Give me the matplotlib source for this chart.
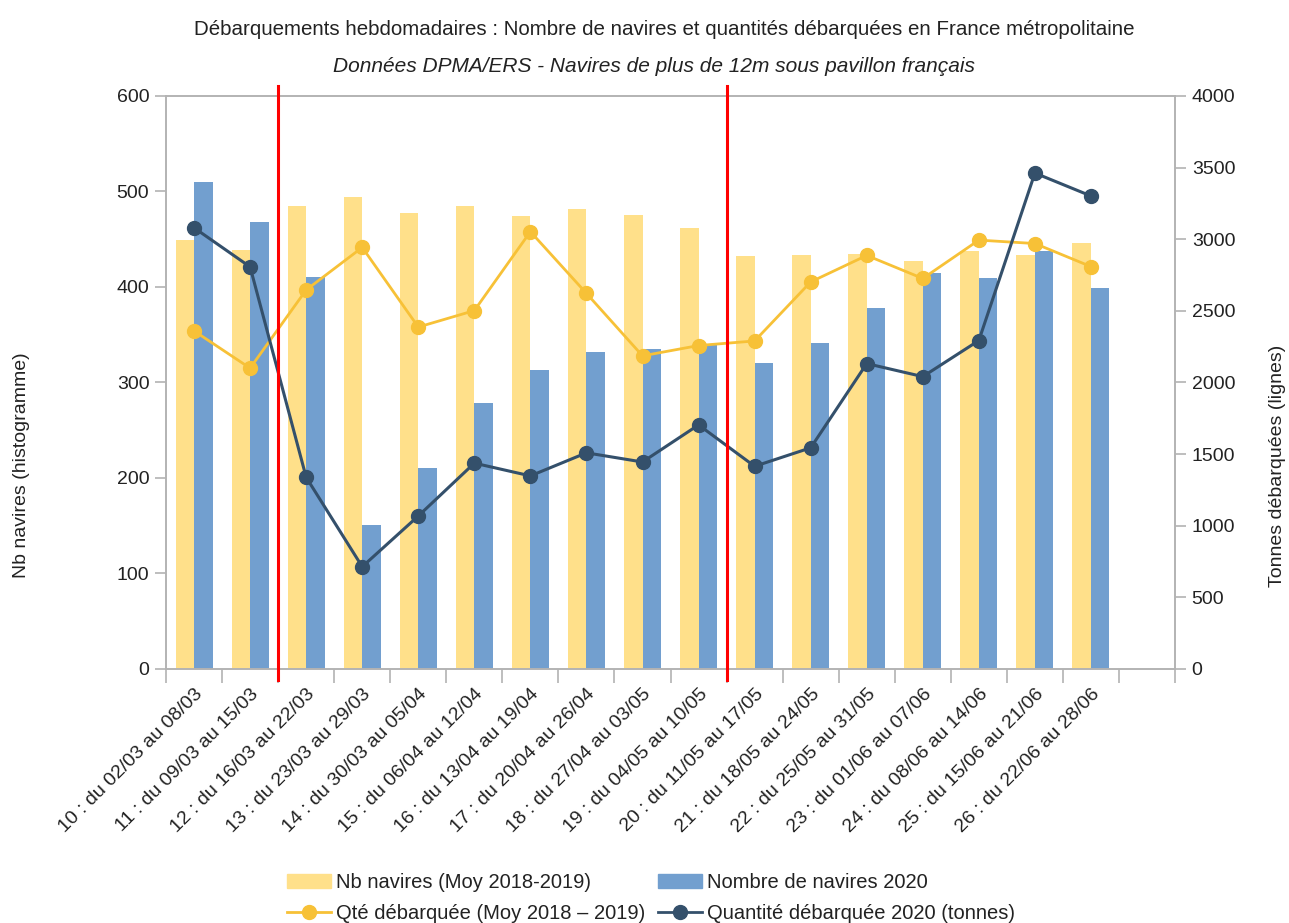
import numpy as np
import matplotlib.pyplot as plt
from matplotlib.lines import Line2D
from matplotlib.patches import Patch

plt.rcParams['font.family'] = ['Liberation Sans', 'DejaVu Sans']

# Weekly labels (week number : date range)
weeks = [
    "10 : du 02/03 au 08/03", "11 : du 09/03 au 15/03", "12 : du 16/03 au 22/03",
    "13 : du 23/03 au 29/03", "14 : du 30/03 au 05/04", "15 : du 06/04 au 12/04",
    "16 : du 13/04 au 19/04", "17 : du 20/04 au 26/04", "18 : du 27/04 au 03/05",
    "19 : du 04/05 au 10/05", "20 : du 11/05 au 17/05", "21 : du 18/05 au 24/05",
    "22 : du 25/05 au 31/05", "23 : du 01/06 au 07/06", "24 : du 08/06 au 14/06",
    "25 : du 15/06 au 21/06", "26 : du 22/06 au 28/06",
]
# Number of vessels (left axis, bars)
nb_moy = [449, 439, 485, 494, 477, 485, 474, 482, 475, 462,
          432, 434, 435, 427, 438, 433, 446]
nb_2020 = [510, 468, 410, 151, 210, 279, 313, 332, 335, 339,
           320, 341, 378, 415, 409, 438, 399]
# Landed quantities in tonnes (right axis, lines)
qte_moy = [2360, 2100, 2646, 2943, 2387, 2502, 3053, 2622, 2186, 2258,
           2290, 2702, 2887, 2726, 2994, 2970, 2809]
qte_2020 = [3080, 2807, 1338, 714, 1068, 1437, 1348, 1509, 1445, 1704,
            1415, 1544, 2132, 2041, 2293, 3462, 3302]
# weeks after which a red separator is drawn (confinement start / end)
separators = [1.5, 9.5]

C_YEL_BAR = "#FFE08A"
C_BLUE_BAR = "#729FCF"
C_YEL_LINE = "#F7C137"
C_DARK_LINE = "#34506B"
C_GRID = "#B3B3B3"
C_TEXT = "#222222"

x = np.arange(len(weeks))
w = 0.33

fig = plt.figure(figsize=(12.89, 9.23), dpi=100)
ax = fig.add_axes([0.1288, 0.2752, 0.7828, 0.6208])
ax2 = ax.twinx()

ax.bar(x - w / 2, nb_moy, width=w, color=C_YEL_BAR, label="Nb navires (Moy 2018-2019)")
ax.bar(x + w / 2, nb_2020, width=w, color=C_BLUE_BAR, label="Nombre de navires 2020")

ax2.plot(x, qte_moy, color=C_YEL_LINE, lw=2, marker="o", ms=10, label="Qté débarquée (Moy 2018 – 2019)")
ax2.plot(x, qte_2020, color=C_DARK_LINE, lw=2.2, marker="o", ms=10, label="Quantité débarquée 2020 (tonnes)")

for s in separators:
    ax2.plot([s, s], [-0.02, 1.018], transform=ax2.get_xaxis_transform(),
             color="red", lw=2.2, clip_on=False, zorder=5)

ax.set_xlim(-0.5, 17.5)
ax.set_ylim(0, 600)
ax2.set_ylim(0, 4000)
ax.set_yticks(np.arange(0, 601, 100))
ax2.set_yticks(np.arange(0, 4001, 500))

# category labels at centres, tick marks at boundaries
ax.set_xticks(x)
ax.set_xticklabels(weeks, rotation=45, ha="right", rotation_mode="anchor",
                   fontsize=14, color=C_TEXT)
ax.set_xticks(np.arange(-0.5, 17.6, 1), minor=True)
ax.tick_params(axis="x", which="major", length=0, pad=12)
ax.tick_params(axis="x", which="minor", length=10, color=C_GRID, width=1.2)
ax.tick_params(axis="y", length=8, color=C_GRID, width=1.2, labelsize=14, labelcolor=C_TEXT, pad=4)
ax2.tick_params(axis="y", length=8, color=C_GRID, width=1.2, labelsize=14, labelcolor=C_TEXT, pad=4)

for a in (ax, ax2):
    for sp in a.spines.values():
        sp.set_color(C_GRID)
        sp.set_linewidth(1.2)

ax.set_ylabel("Nb navires (histogramme)", fontsize=14, color=C_TEXT)
ax2.set_ylabel("Tonnes débarquées (lignes)", fontsize=14, color=C_TEXT)
ax.yaxis.set_label_coords(-0.135, 0.355)
ax2.yaxis.set_label_coords(1.093, 0.355)

fig.text(0.515, 0.968, "Débarquements hebdomadaires : Nombre de navires et quantités débarquées en France métropolitaine",
         ha="center", va="center", fontsize=14.75, color=C_TEXT)
fig.text(0.507, 0.928, "Données DPMA/ERS - Navires de plus de 12m sous pavillon français",
         ha="center", va="center", fontsize=15, style="italic", color=C_TEXT)

handles = [
    Patch(color=C_YEL_BAR), Line2D([], [], color=C_YEL_LINE, lw=2, marker="o", ms=10),
    Patch(color=C_BLUE_BAR), Line2D([], [], color=C_DARK_LINE, lw=2, marker="o", ms=10),
]
labels = ["Nb navires (Moy 2018-2019)", "Qté débarquée (Moy 2018 – 2019)",
          "Nombre de navires 2020", "Quantité débarquée 2020 (tonnes)"]
fig.legend(handles, labels, ncol=2, loc="center", bbox_to_anchor=(0.505, 0.027),
           frameon=False, fontsize=14.5, handlelength=2.2, handleheight=0.65,
           columnspacing=0.6, labelspacing=0.6, handletextpad=0.25, labelcolor=C_TEXT)

fig.savefig("out.png", dpi=100)
